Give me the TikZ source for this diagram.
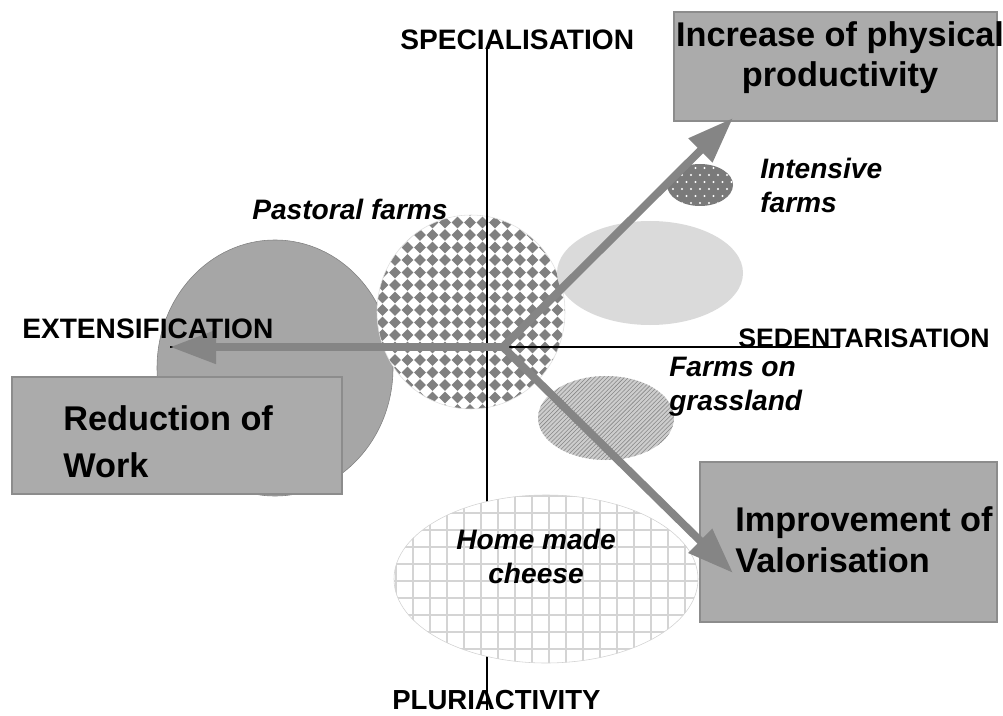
\documentclass[tikz,border=0pt]{standalone}
\usepackage{fontspec}
\setmainfont{Liberation Sans}
\usetikzlibrary{arrows.meta,patterns}

\definecolor{arrowgray}{RGB}{133,133,133}
\definecolor{boxgray}{RGB}{171,171,171}
\definecolor{boxedge}{RGB}{140,140,140}
\definecolor{circlegray}{RGB}{166,166,166}
\definecolor{lightgray}{RGB}{218,218,218}
\definecolor{dotgray}{RGB}{122,122,122}
\definecolor{diamondgray}{RGB}{128,128,128}
\definecolor{stripebg}{RGB}{205,205,205}
\definecolor{stripefg}{RGB}{135,135,135}
\definecolor{gridgray}{RGB}{212,212,212}

\tikzset{
  axislabel/.style={font=\bfseries\fontsize{20}{23}\selectfont, inner sep=0pt, anchor=base west},
  farmlabel/.style={font=\bfseries\itshape\fontsize{20}{23.5}\selectfont, inner sep=0pt, align=left},
  goalbox/.style={fill=boxgray, draw=boxedge, line width=0.8pt, inner sep=0pt},
  goaltext/.style={font=\bfseries\fontsize{24.4}{28.5}\selectfont, inner sep=0pt},
  trend/.style={draw=arrowgray, line width=5.6pt, -{Triangle[length=1.15cm,width=0.8cm]}},
}

\begin{document}
\begin{tikzpicture}[x=0.025cm, y=-0.025cm]
\useasboundingbox (0,0) rectangle (1003,715);

% farm types
\fill[circlegray, draw=gray] (275,368) ellipse [x radius=118, y radius=128];
\begin{scope}
  \clip (471,312) ellipse [x radius=94, y radius=97];
  \fill[white] (471,312) ellipse [x radius=94, y radius=97];
  \foreach \dx in {370,382.5,...,580}
    \foreach \dy in {210,222.5,...,420}
      \fill[diamondgray] (\dx,\dy) ++(-5.8,0) -- ++(5.8,-5.8) -- ++(5.8,5.8) -- ++(-5.8,5.8) -- cycle;
\end{scope}
\draw[gray!25] (471,312) ellipse [x radius=94, y radius=97];
\fill[lightgray] (650,273) ellipse [x radius=93, y radius=52];
\fill[dotgray] (700,185) ellipse [x radius=33, y radius=21];
\begin{scope}
  \clip (700,185) ellipse [x radius=33, y radius=21];
  \foreach \py [count=\r] in {168,175,...,203}
    \foreach \px in {664,673,...,736}
      \fill[white] ({\px+mod(\r,2)*4.5},\py) circle [radius=1.1];
\end{scope}
\fill[stripebg] (606,418) ellipse [x radius=68, y radius=42];
\fill[pattern=north east lines, pattern color=stripefg] (606,418) ellipse [x radius=68, y radius=42];

% axes
\coordinate (spec) at (487,48);
\coordinate (plur) at (487,710);
\coordinate (ext) at (170,347);
\coordinate (sed) at (840,347);
\draw[line width=1.2pt] (spec) -- (plur);
\draw[line width=1.2pt] (ext) -- (sed);

\fill[white, draw=gray!35] (546,579) ellipse [x radius=152, y radius=84];
\begin{scope}
  \clip (546,579) ellipse [x radius=152, y radius=84];
  \foreach \gx in {396,413,...,700} \draw[gridgray, line width=1pt] (\gx,490) -- (\gx,668);
  \foreach \gy in {496,513,...,665} \draw[gridgray, line width=1pt] (390,\gy) -- (702,\gy);
\end{scope}

% goals
\node[goalbox, minimum width=8.075cm, minimum height=2.725cm] (incbox) at (835.5,66.5) {};
\node[goalbox, minimum width=8.25cm, minimum height=2.925cm] (redbox) at (177,435.5) {};
\node[goalbox, minimum width=7.425cm, minimum height=4cm] (impbox) at (848.5,542) {};

% trends
\coordinate (o) at (503,347);
\coordinate (incTip) at (733,118);
\coordinate (redTip) at (170,347);
\coordinate (impTip) at (733,573);
\draw[trend] (o) -- (incTip);
\draw[trend] (o) -- (redTip);
\draw[trend] (o) -- (impTip);

% labels (multi-line ones sit on their last baseline)
\node[axislabel] (specL) at (400,50) {SPECIALISATION};
\node[axislabel, font=\bfseries\fontsize{19.6}{23}\selectfont] (plurL) at (392,709) {PLURIACTIVITY};
\node[axislabel] (extL) at (22,338) {EXTENSIFICATION};
\node[axislabel, font=\bfseries\fontsize{19}{23}\selectfont] (sedL) at (738,347) {SEDENTARISATION};
\node[farmlabel, anchor=base west] (pastL) at (252,220) {Pastoral farms};
\node[farmlabel, anchor=base west] (intL) at (760,212) {Intensive\\farms};
\node[farmlabel, anchor=base west] (grassL) at (669,410) {Farms on\\grassland};
\node[farmlabel, anchor=base, align=center] (cheeseL) at (536,583) {Home made\\cheese};
\node[goaltext, align=center, anchor=base] (incL) at (840,87) {Increase of physical\\productivity};
\node[goaltext, align=left, anchor=base west] (redL) at (63,477) {Reduction of\\[4.5pt]Work};
\node[goaltext, align=left, anchor=base west] (impL) at (735,572) {Improvement of\\Valorisation};
\end{tikzpicture}
\end{document}
